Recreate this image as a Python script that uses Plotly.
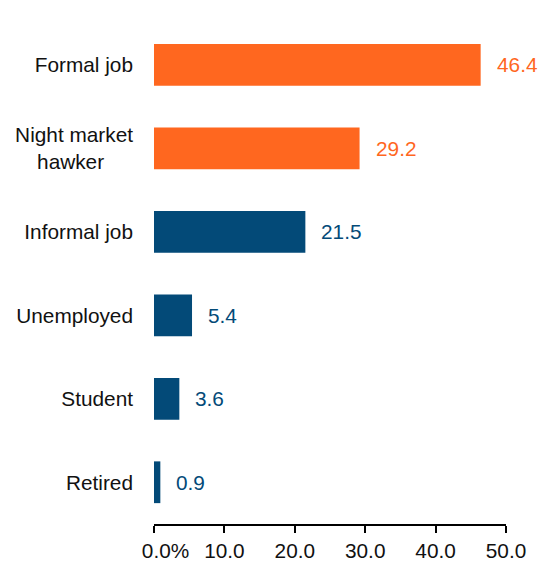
import plotly.graph_objects as go

# Share of respondents by occupation (%)
categories = ["Formal job", "Night market<br>hawker\u00a0\u00a0\u00a0\u00a0\u00a0", "Informal job",
              "Unemployed", "Student", "Retired"]
values = [46.4, 29.2, 21.5, 5.4, 3.6, 0.9]
highlight = [True, True, False, False, False, False]
tick_vals = [0, 10, 20, 30, 40, 50]
tick_text = ["\u00a0\u00a0\u00a0\u00a00.0%", "10.0", "20.0", "30.0", "40.0", "50.0"]

ORANGE = "#FF671F"
BLUE = "#034A78"
colors = [ORANGE if h else BLUE for h in highlight]
FONT = "Liberation Sans, Arial"
SIZE = 20.8

fig = go.Figure(go.Bar(
    x=values, y=categories, orientation="h",
    marker=dict(color=colors, line=dict(width=0)),
    hoverinfo="skip",
))

for cat, v, c in zip(categories, values, colors):
    fig.add_annotation(x=v, y=cat, text=f"{v:.1f}", showarrow=False,
                       xanchor="left", yanchor="middle", xshift=14,
                       font=dict(family=FONT, size=SIZE, color=c))

fig.update_layout(
    width=541, height=563,
    margin=dict(l=154, r=35, t=23, b=39),
    paper_bgcolor="white", plot_bgcolor="white",
    bargap=0.5, showlegend=False,
    font=dict(family=FONT, size=SIZE, color="#111111"),
)
fig.update_yaxes(
    autorange="reversed", showline=False, showgrid=False, zeroline=False,
    ticks="", ticklabelstandoff=20, automargin=False,
)
fig.update_xaxes(
    range=[0, 50], tickvals=tick_vals, ticktext=tick_text,
    showline=True, linecolor="black", linewidth=1.5,
    ticks="outside", ticklen=7, tickwidth=1.5, tickcolor="black",
    automargin=False,
    showgrid=False, zeroline=False,
)

fig.write_html("out.html")
